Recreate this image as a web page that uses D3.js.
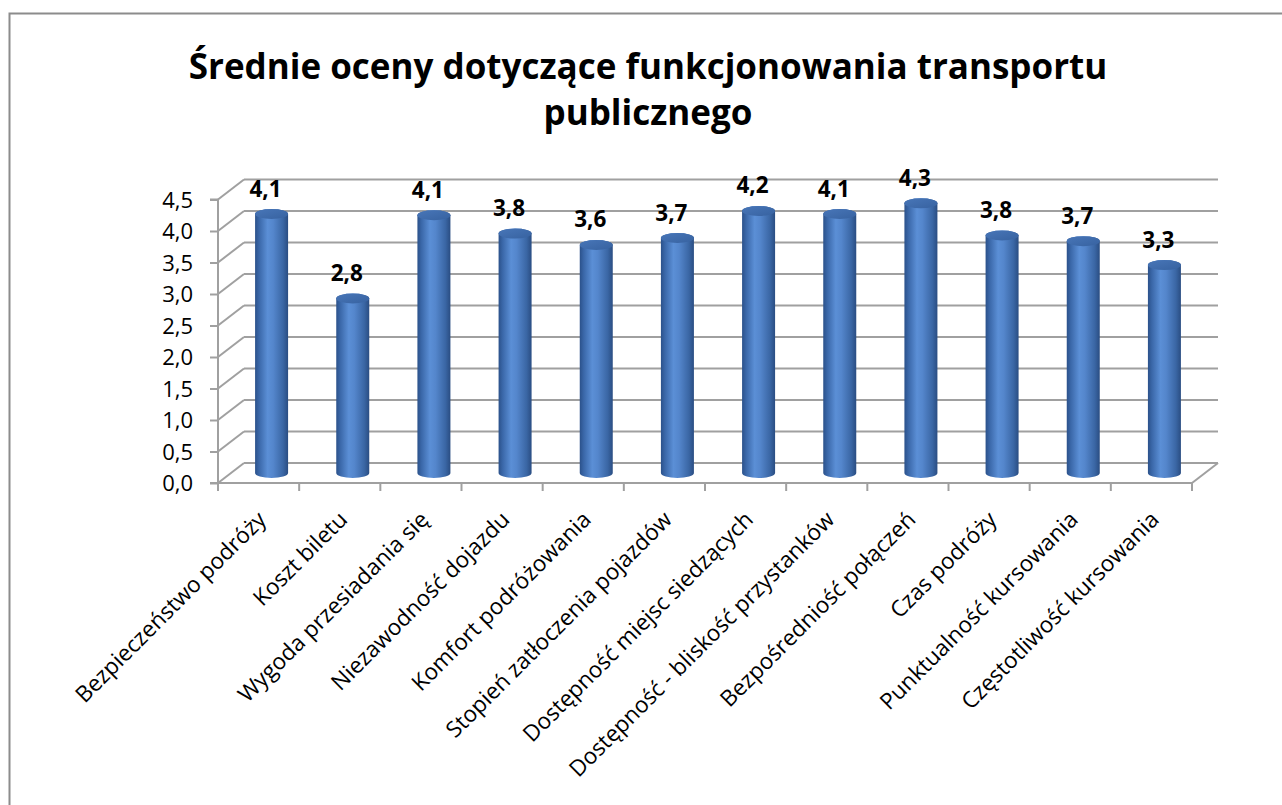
<!DOCTYPE html>
<html>
<head>
<meta charset="utf-8">
<script src="https://cdn.jsdelivr.net/npm/d3@7"></script>
<style>
  html, body { margin: 0; padding: 0; background: #fff; }
  svg { display: block; }
  text { font-family: "Open Sans", "DejaVu Sans", sans-serif; fill: #000; }
</style>
</head>
<body>
<svg id="chart" width="1282" height="805"></svg>
<script>
const titleLines = ["Średnie oceny dotyczące funkcjonowania transportu", "publicznego"];
const categories = [
  "Bezpieczeństwo podróży",
  "Koszt biletu",
  "Wygoda przesiadania się",
  "Niezawodność dojazdu",
  "Komfort podróżowania",
  "Stopień zatłoczenia pojazdów",
  "Dostępność miejsc siedzących",
  "Dostępność - bliskość przystanków",
  "Bezpośredniość połączeń",
  "Czas podróży",
  "Punktualność kursowania",
  "Częstotliwość kursowania"
];
const values = [4.11, 2.77, 4.09, 3.80, 3.62, 3.73, 4.16, 4.11, 4.28, 3.77, 3.68, 3.30];
const yTicks = [0, 0.5, 1, 1.5, 2, 2.5, 3, 3.5, 4, 4.5];

const svg = d3.select("#chart");
const fmt = v => d3.format(".1f")(v).replace(".", ",");

// layout
const x0 = 218, x1 = 1192, yBase = 483, yTop = 199.5;
const depthX = 26, depthY = -20;
const gridColor = "#a0a0a0";

const x = d3.scaleBand().domain(categories).range([x0, x1]).padding(0);
const y = d3.scaleLinear().domain([0, 4.5]).range([yBase, yTop]);

// border
svg.append("path")
  .attr("d", `M9.5,805 L9.5,13.5 L1282,13.5`)
  .attr("fill", "none").attr("stroke", "#8c8c8c").attr("stroke-width", 2);

// title
const title = svg.append("text")
  .attr("text-anchor", "middle")
  .attr("font-weight", "bold")
  .attr("font-size", 35);
title.selectAll("tspan").data(titleLines).join("tspan")
  .attr("x", 648)
  .attr("y", (d, i) => 79 + i * 46)
  .text(d => d);

// defs
const defs = svg.append("defs");
const grad = defs.append("linearGradient").attr("id", "cyl").attr("x1", "0").attr("x2", "1").attr("y1", "0").attr("y2", "0");
[["0%", "#2b518a"], ["12%", "#3a67a8"], ["38%", "#5b8fd6"], ["55%", "#5486cc"], ["85%", "#3a66a4"], ["100%", "#2a4d82"]]
  .forEach(([o, c]) => grad.append("stop").attr("offset", o).attr("stop-color", c));
const gradTop = defs.append("linearGradient").attr("id", "cylTop").attr("x1", "0").attr("x2", "1").attr("y1", "0").attr("y2", "1");
[["0%", "#4876b8"], ["100%", "#3762a0"]]
  .forEach(([o, c]) => gradTop.append("stop").attr("offset", o).attr("stop-color", c));

// walls / grid
const grid = svg.append("g").attr("stroke", gridColor).attr("stroke-width", 2).attr("fill", "none");
yTicks.forEach(t => {
  const yy = y(t);
  grid.append("line").attr("x1", x0).attr("y1", yy).attr("x2", x0 + depthX).attr("y2", yy + depthY);
  grid.append("line").attr("x1", x0 + depthX).attr("y1", yy + depthY).attr("x2", x1 + depthX).attr("y2", yy + depthY);
});
// floor right edge
grid.append("line").attr("x1", x1).attr("y1", yBase).attr("x2", x1 + depthX).attr("y2", yBase + depthY);

// y axis
const yAxis = d3.axisLeft(y).tickValues(yTicks).tickFormat(fmt).tickSize(8).tickPadding(17);
const gy = svg.append("g").attr("transform", `translate(${x0},0)`).call(yAxis);
gy.select(".domain").attr("stroke", gridColor).attr("stroke-width", 2).attr("d", `M-8,${yTop}H0V${yBase}H-8`);
gy.selectAll(".tick line").attr("stroke", gridColor).attr("stroke-width", 2);
gy.selectAll(".tick text").attr("font-size", 22).attr("font-family", "'Open Sans', sans-serif").attr("fill", "#000").attr("dy", "0.35em");

// x axis (front floor edge)
const xAxis = d3.axisBottom(x).tickSize(0).tickFormat("");
const gx = svg.append("g").attr("transform", `translate(0,${yBase})`).call(xAxis);
gx.select(".domain").attr("stroke", gridColor).attr("stroke-width", 2).attr("d", `M${x0},0H${x1}`);
const bounds = d3.range(categories.length + 1).map(i => x0 + i * x.bandwidth());
gx.selectAll(".bt").data(bounds).join("line").attr("class", "bt")
  .attr("x1", d => d).attr("x2", d => d).attr("y1", 0).attr("y2", 8)
  .attr("stroke", gridColor).attr("stroke-width", 2);

// category labels
svg.append("g").selectAll("text").data(categories).join("text")
  .attr("text-anchor", "end")
  .attr("font-size", 22.5)
  .attr("transform", d => `translate(${x(d) + x.bandwidth() / 2 + 9},${yBase + 38}) rotate(-45)`)
  .text(d => d);

// cylinders
const rx = 16.5, ry = 5;
const bars = svg.append("g");
categories.forEach((c, i) => {
  const v = values[i];
  const cx = x(c) + x.bandwidth() / 2 + depthX / 2;
  const by = y(0) + depthY / 2;
  const ty = y(v) + depthY / 2;
  bars.append("path")
    .attr("d", `M${cx - rx},${ty} L${cx - rx},${by} A${rx},${ry} 0 0 0 ${cx + rx},${by} L${cx + rx},${ty} A${rx},${ry} 0 0 0 ${cx - rx},${ty} Z`)
    .attr("fill", "url(#cyl)");
  bars.append("ellipse")
    .attr("cx", cx).attr("cy", ty).attr("rx", rx).attr("ry", ry)
    .attr("fill", "url(#cylTop)");
  bars.append("text")
    .attr("x", cx - 6).attr("y", ty - 17.5)
    .attr("text-anchor", "middle")
    .attr("font-weight", "bold")
    .attr("font-size", 22.5)
    .text(fmt(v));
});
</script>
</body>
</html>
